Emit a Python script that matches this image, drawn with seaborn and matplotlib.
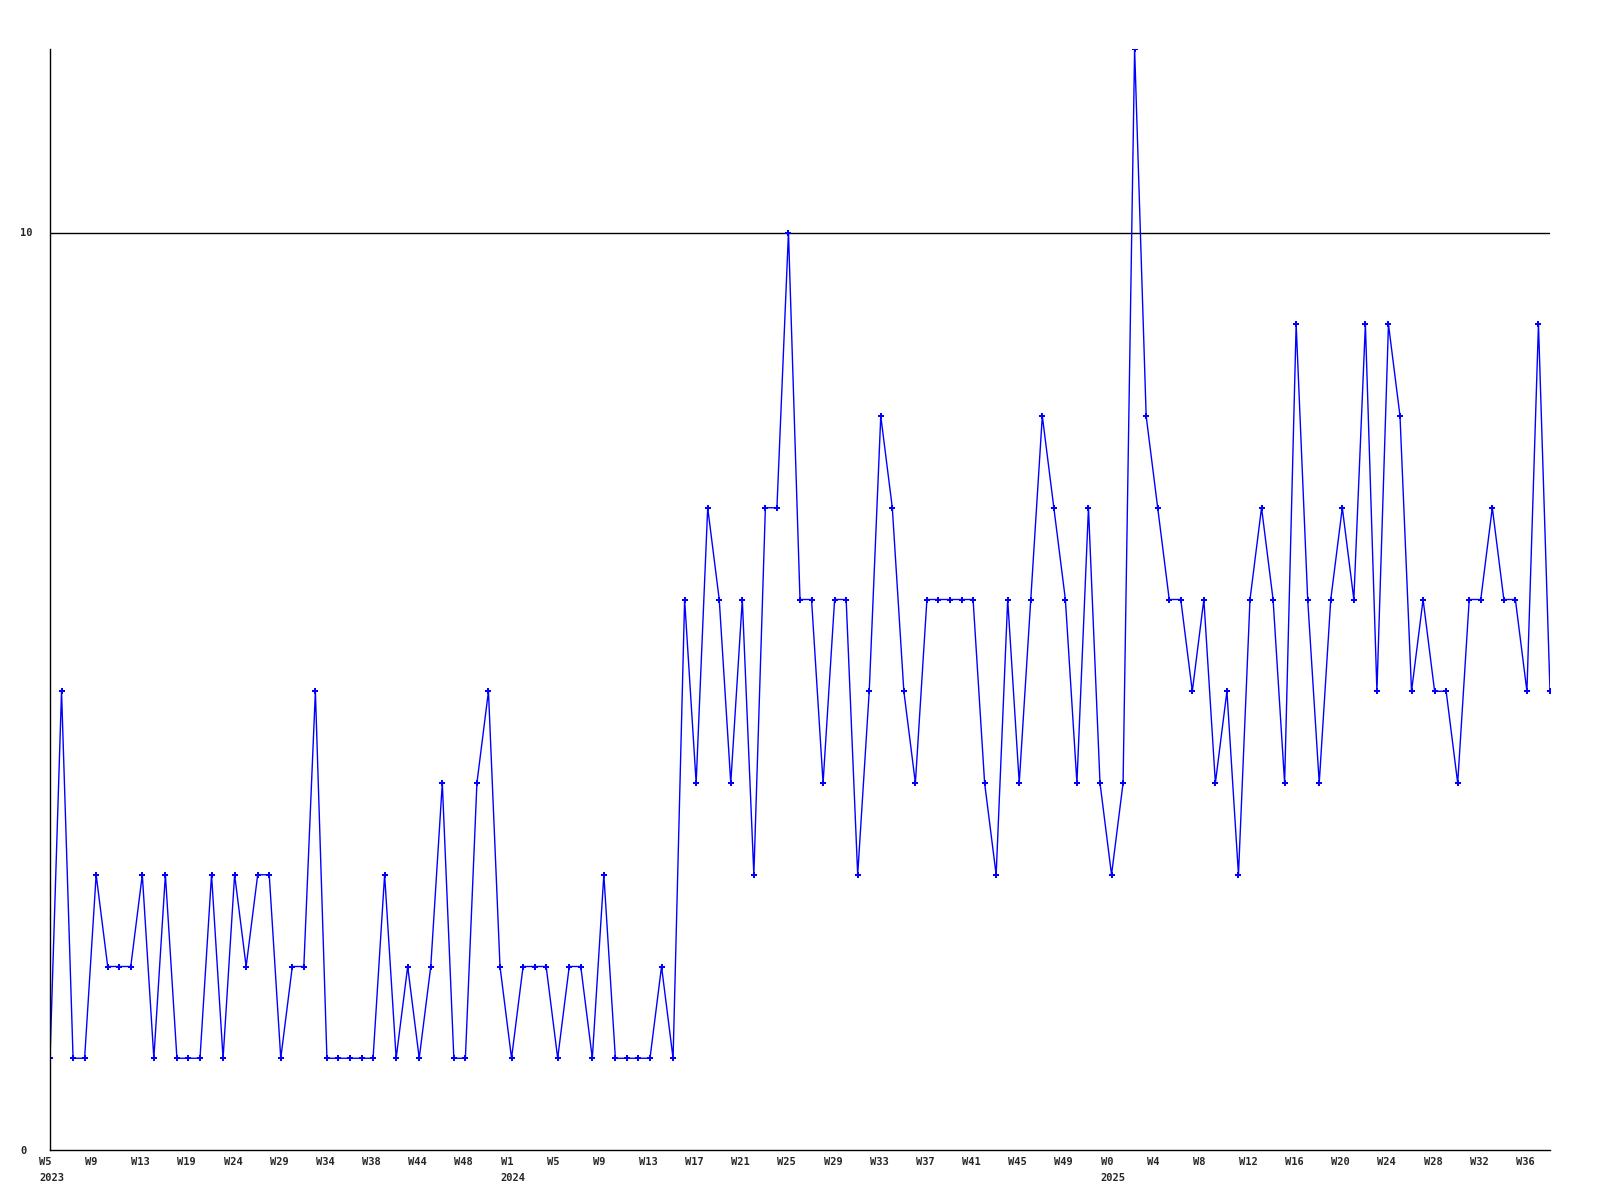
import matplotlib
matplotlib.use("Agg")
import matplotlib.pyplot as plt
import matplotlib.transforms as mtransforms
import pandas as pd
import seaborn as sns

# weekly counts, one per point on the x axis
values = [
    1, 5, 1, 1, 3, 2, 2, 2, 3, 1, 3, 1, 1, 1, 3, 1, 3, 2, 3, 3, 1, 2, 2, 5,
    1, 1, 1, 1, 1, 3, 1, 2, 1, 2, 4, 1, 1, 4, 5, 2, 1, 2, 2, 2, 1, 2, 2, 1,
    3, 1, 1, 1, 1, 2, 1,
    6, 4, 7, 6, 4, 6, 3, 7, 7, 10, 6, 6, 4, 6, 6, 3, 5, 8, 7, 5, 4, 6, 6, 6, 6,
    6, 4, 3, 6, 4, 6, 8, 7, 6, 4, 7, 4, 3, 4, 12, 8, 7, 6, 6, 5, 6, 4, 5, 3, 6,
    7, 6, 4, 9, 6, 4, 6, 7, 6, 9, 5, 9, 8, 5, 6, 5, 5, 4, 6, 6, 7, 6, 6, 5, 9, 5,
]

# label shown on every 4th point
tick_labels = [
    "W5\n2023", "W9", "W13", "W19", "W24", "W29", "W34", "W38", "W44", "W48",
    "W1\n2024", "W5", "W9", "W13", "W17", "W21", "W25", "W29", "W33", "W37",
    "W41", "W45", "W49", "W0\n2025", "W4", "W8", "W12", "W16", "W20", "W24",
    "W28", "W32", "W36",
]
TICK_STEP = 4

y_ticks = [0, 10]
reference_level = 10
y_max = 12

df = pd.DataFrame({"week_index": range(len(values)), "count": values})

sns.set_style("white")
plt.rcParams["font.family"] = ["DejaVu Sans Mono"]

fig = plt.figure(figsize=(16, 12), dpi=100)
ax = fig.add_axes([50 / 1600, 50 / 1200, 1500 / 1600, 1101 / 1200])

ax.axhline(reference_level, color="black", linewidth=1, zorder=1)
sns.lineplot(
    data=df, x="week_index", y="count", ax=ax,
    color="#0000ff", linewidth=1, marker="P", markersize=5,
    markeredgewidth=0, zorder=2,
)

ax.set_xlim(0, len(values) - 1)
ax.set_ylim(0, y_max)
ax.set_xlabel("")
ax.set_ylabel("")

# tick_params resets label transforms, so it goes before the shift below
ax.tick_params(axis="x", length=0, pad=5)
ax.tick_params(axis="y", length=0, pad=21.6)

ax.set_xticks(range(0, len(values), TICK_STEP))
ax.set_xticklabels(tick_labels, ha="left", fontsize=7.5, fontweight="bold",
                   linespacing=1.7)
shift = mtransforms.ScaledTranslation(-11 / 100, 0, fig.dpi_scale_trans)
for lab in ax.get_xticklabels():
    lab.set_transform(lab.get_transform() + shift)

ax.set_yticks(y_ticks)
ax.set_yticklabels([str(v) for v in y_ticks], ha="left", fontsize=7.5,
                   fontweight="bold")

for side in ["top", "right"]:
    ax.spines[side].set_visible(False)
for side in ["left", "bottom"]:
    ax.spines[side].set_color("black")
    ax.spines[side].set_linewidth(1)

fig.savefig("out.png", dpi=100)
plt.close()
